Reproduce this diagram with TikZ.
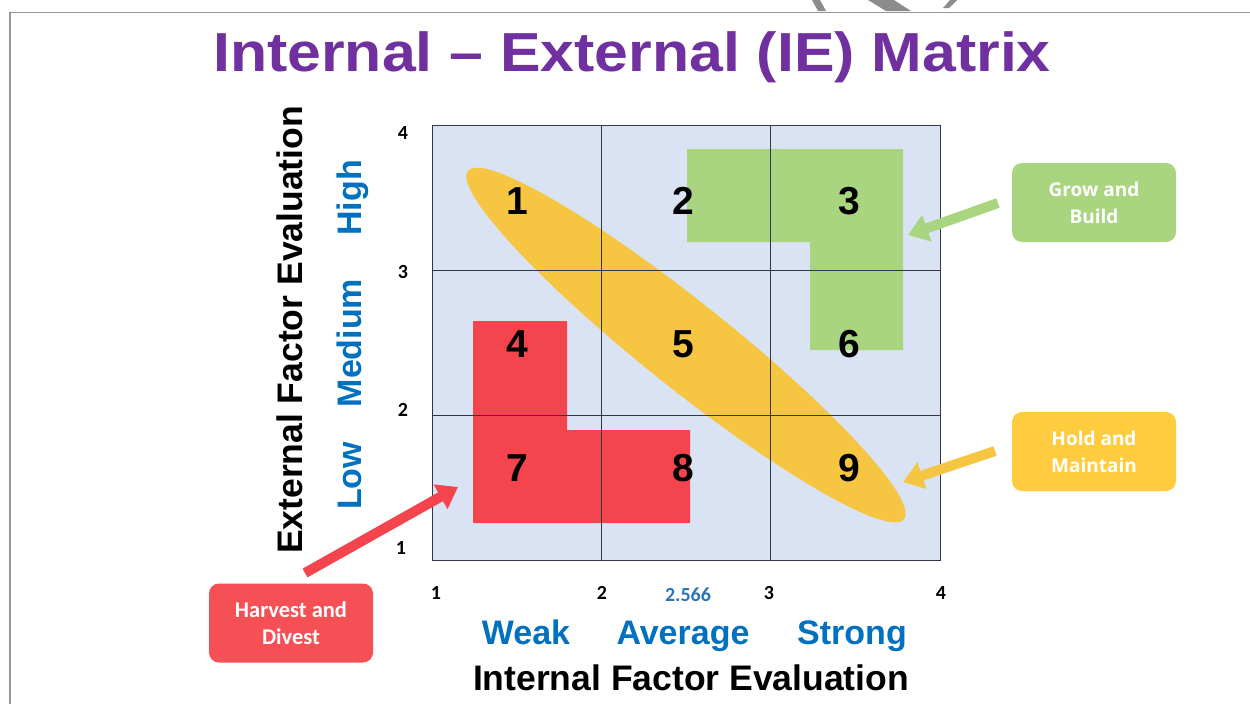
\documentclass[tikz,border=0pt]{standalone}
\usepackage{fontspec}
\setmainfont{Liberation Sans}
\newfontfamily\carl{Carlito}
\newfontfamily\osans{Open Sans}
\usetikzlibrary{arrows.meta}
\definecolor{ttl}{RGB}{112,48,160}
\definecolor{axblue}{RGB}{0,112,192}
\definecolor{numblue}{RGB}{46,117,182}
\definecolor{gridbg}{RGB}{218,227,243}
\definecolor{gridln}{RGB}{50,55,75}
\definecolor{greenc}{RGB}{169,213,128}
\definecolor{yellowc}{RGB}{246,198,66}
\definecolor{yboxc}{RGB}{255,204,64}
\definecolor{redc}{RGB}{244,68,78}
\definecolor{rboxc}{RGB}{245,80,85}
\definecolor{artgray}{RGB}{140,140,140}
\definecolor{bordergray}{RGB}{150,150,150}
\tikzset{
  cellnum/.style={font=\fontsize{39}{39}\selectfont\bfseries, text=black, inner sep=0pt, anchor=base},
  axnum/.style={font=\carl\fontsize{20}{20}\selectfont\bfseries, text=black, inner sep=0pt},
  axword/.style={font=\fontsize{34}{34}\selectfont\bfseries, text=axblue, inner sep=0pt, anchor=base},
  axtitle/.style={font=\fontsize{35.5}{35.5}\selectfont\bfseries, text=black, inner sep=0pt, anchor=base},
  tagbox/.style={rounded corners=10pt, minimum width=164pt, minimum height=79pt, inner sep=0pt, text=white, align=center},
  fatarrow/.style={line width=10pt, -{Triangle[length=20pt,width=27pt]}, shorten >=0pt}
}
\begin{document}
\begin{tikzpicture}[x=1pt,y=-1pt]
\useasboundingbox (0,0) rectangle (1250,704);
\fill[white] (0,0) rectangle (1250,704);
% artefacts above the frame
\fill[artgray] (812,0) -- (820,0) -- (826,11) -- (818,11) -- cycle;
\fill[artgray] (868,0) -- (894,0) -- (911,11) -- (886,11) -- cycle;
\fill[artgray] (950,0) -- (957,0) -- (949,8) -- (943,8) -- cycle;
\draw[bordergray, line width=1.5pt] (1250,12.5) -- (10,12.5) -- (10,704);
% title
\node[font=\fontsize{55}{55}\selectfont\bfseries, text=ttl, inner sep=0pt, anchor=base, xscale=1.105] (title) at (632,71) {Internal -- External (IE) Matrix};
% grid background
\fill[gridbg] (432,125) rectangle (940,560);
% regions
\fill[greenc] (687,149) -- (903,149) -- (903,350) -- (810,350) -- (810,242) -- (687,242) -- cycle;
\fill[redc] (473,321) -- (567,321) -- (567,430) -- (690,430) -- (690,523) -- (473,523) -- cycle;
\fill[yellowc, shift={(686,345)}, rotate=-38.6] (0,0) ellipse [x radius=279pt, y radius=43pt];
% grid lines
\draw[gridln, line width=0.8pt] (432,125) rectangle (940,560);
\draw[gridln, line width=0.8pt] (601,125) -- (601,560) (770,125) -- (770,560)
  (432,270) -- (940,270) (432,415) -- (940,415);
% cell numbers
\node[cellnum] (c1) at (517,214) {1};
\node[cellnum] (c2) at (683,214) {2};
\node[cellnum] (c3) at (849,214) {3};
\node[cellnum] (c4) at (517,357) {4};
\node[cellnum] (c5) at (683,357) {5};
\node[cellnum] (c6) at (849,357) {6};
\node[cellnum] (c7) at (517,481) {7};
\node[cellnum] (c8) at (683,481) {8};
\node[cellnum] (c9) at (849,481) {9};
% axis numbers
\node[axnum] (y4) at (403,133) {4};
\node[axnum] (y3) at (403,272) {3};
\node[axnum] (y2) at (403,410) {2};
\node[axnum] (y1) at (401,548) {1};
\node[axnum] (x1) at (436,593) {1};
\node[axnum] (x2) at (602,593) {2};
\node[axnum, text=numblue] (x25) at (688,595) {2.566};
\node[axnum] (x3) at (769,593) {3};
\node[axnum] (x4) at (941,593) {4};
% axis words
\node[axword] (weak) at (526,644) {Weak};
\node[axword] (avg) at (683,644) {Average};
\node[axword] (strong) at (852,644) {Strong};
\node[axtitle] (ife) at (691,690) {Internal Factor Evaluation};
\node[axword, rotate=90] (high) at (361,198) {High};
\node[axword, rotate=90] (med) at (361,343) {Medium};
\node[axword, rotate=90] (low) at (361,476) {Low};
\node[axtitle, rotate=90] (efe) at (302,330) {External Factor Evaluation};
% tag boxes
\node[tagbox, fill=greenc, font=\osans\fontsize{19}{27}\selectfont\bfseries] (grow) at (1094,202.5) {Grow and\\Build};
\node[tagbox, fill=yboxc, font=\osans\fontsize{19}{27}\selectfont\bfseries] (hold) at (1094,451.5) {Hold and\\Maintain};
\node[tagbox, fill=rboxc, font=\carl\fontsize{22.5}{27}\selectfont\bfseries] (harv) at (291,623) {Harvest and\\Divest};
% arrows
\coordinate (gs) at (998,203);
\coordinate (gt) at (908,235);
\coordinate (ys) at (995,451);
\coordinate (yt) at (903,482);
\coordinate (rs) at (305,573);
\coordinate (rt) at (458,487);
\draw[fatarrow, greenc] (gs) -- (gt);
\draw[fatarrow, yellowc] (ys) -- (yt);
\draw[fatarrow, redc] (rs) -- (rt);
\end{tikzpicture}
\end{document}
